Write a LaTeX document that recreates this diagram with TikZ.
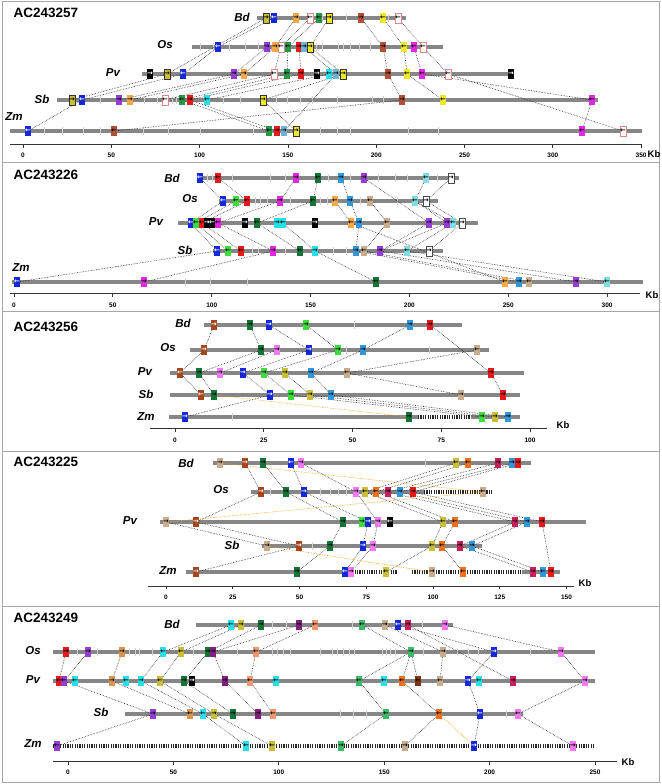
\documentclass[tikz,border=0pt]{standalone}
\usepackage{fontspec}
\setmainfont{Liberation Sans}
\newfontfamily\arrowfont{DejaVu Sans}
\usetikzlibrary{backgrounds}
\pgfdeclarelayer{links}
\pgfsetlayers{background,links,main}

\definecolor{cOlv}{RGB}{200,190,60}
\definecolor{cYel}{RGB}{238,232,40}
\definecolor{cBlu}{RGB}{20,40,215}
\definecolor{cOrg}{RGB}{242,168,72}
\definecolor{cDorg}{RGB}{236,112,30}
\definecolor{cPnk}{RGB}{225,135,135}
\definecolor{cGrn}{RGB}{40,150,70}
\definecolor{cDgrn}{RGB}{20,115,55}
\definecolor{cLgrn}{RGB}{60,220,60}
\definecolor{cMgrn}{RGB}{60,185,100}
\definecolor{cRed}{RGB}{228,25,25}
\definecolor{cBrn}{RGB}{175,80,55}
\definecolor{cPbrn}{RGB}{165,70,30}
\definecolor{cDbrn}{RGB}{130,50,10}
\definecolor{cSky}{RGB}{110,180,212}
\definecolor{cCyn}{RGB}{40,222,232}
\definecolor{cLcyn}{RGB}{130,220,222}
\definecolor{cPur}{RGB}{150,60,210}
\definecolor{cMag}{RGB}{225,40,225}
\definecolor{cLmag}{RGB}{240,120,240}
\definecolor{cTan}{RGB}{200,172,142}
\definecolor{cOcr}{RGB}{215,150,80}
\definecolor{cMblu}{RGB}{50,150,215}
\definecolor{cCrim}{RGB}{200,30,90}
\definecolor{cDpur}{RGB}{130,30,130}
\definecolor{cSal}{RGB}{242,150,110}

\newcommand{\garr}{→}
\newcommand{\garl}{←}
% genes of one track: prefix, y, list x/style/arrow/name
\newcommand{\generow}[3]{%
  \foreach \gx/\gs/\gd/\gn in {#3}
    \node[gene,\gs] (#1-\gn) at (\gx,#2) {\csname gar\gd\endcsname};}
% light marks on a track: y, list of x
\newcommand{\tickrow}[2]{%
  \foreach \tx in {#2} \draw[tickmark] (\tx,#1-4) -- (\tx,#1+4);}
% dotted links: style, list from/to
\newcommand{\linkset}[2]{%
  \begin{pgfonlayer}{links}
  \foreach \la/\lb in {#2} \draw[#1] (\la) -- (\lb);
  \end{pgfonlayer}}

\begin{document}
\begin{tikzpicture}[
  x=1pt, y=-1pt,
  gene/.style={minimum width=6pt, minimum height=10pt, inner sep=0pt, line width=0.5pt, font=\arrowfont\bfseries\fontsize{6.8}{6.8}\selectfont},
  golv/.style={fill=cOlv}, golvk/.style={fill=cOlv, draw=black!80},
  gyel/.style={fill=cYel}, gyelk/.style={fill=cYel, draw=black!80},
  gblu/.style={fill=cBlu, text=white}, gblk/.style={fill=black, text=white},
  gorg/.style={fill=cOrg}, gdorg/.style={fill=cDorg},
  gpnk/.style={fill=white, draw=cPnk}, gwht/.style={fill=white, draw=black!70},
  ggrn/.style={fill=cGrn}, gdgrn/.style={fill=cDgrn}, glgrn/.style={fill=cLgrn}, gmgrn/.style={fill=cMgrn},
  gred/.style={fill=cRed}, gbrn/.style={fill=cBrn}, gpbrn/.style={fill=cPbrn, text=white}, gdbrn/.style={fill=cDbrn},
  gsky/.style={fill=cSky}, gcyn/.style={fill=cCyn}, glcyn/.style={fill=cLcyn}, gmblu/.style={fill=cMblu},
  gpur/.style={fill=cPur}, gmag/.style={fill=cMag}, glmag/.style={fill=cLmag}, gdpur/.style={fill=cDpur},
  gtan/.style={fill=cTan}, gocr/.style={fill=cOcr}, gcrim/.style={fill=cCrim}, gsal/.style={fill=cSal},
  track/.style={draw=gray!95, line width=4.2pt},
  zdash/.style={draw=black!85, line width=4.2pt, dash pattern=on 1.1pt off 1.3pt},
  tickmark/.style={draw=gray!35, line width=1pt},
  link/.style={densely dotted, draw=black!85, line width=0.6pt},
  olink/.style={link, draw=orange!80!yellow},
  axisline/.style={draw=black!80, line width=0.8pt},
  panel/.style={draw=gray!70, line width=1pt},
  title/.style={anchor=west, font=\fontsize{13.5}{14}\selectfont\bfseries},
  sp/.style={font=\fontsize{11.5}{12}\selectfont\bfseries\itshape},
  kblab/.style={font=\fontsize{6.5}{7}\selectfont\bfseries},
  kbunit/.style={anchor=west, inner sep=0.5pt, font=\fontsize{9.5}{10}\selectfont\bfseries}
]
\useasboundingbox (0,0) rectangle (661,784);
\draw[panel] (2,2) rectangle (659,162);
\draw[panel] (2,162) rectangle (659,311);
\draw[panel] (2,311) rectangle (659,451);
\draw[panel] (2,451) rectangle (659,606);
\draw[panel] (2,606) rectangle (659,782);

% ---------------- AC243257
\node[title] (t1) at (10,13) {AC243257};
\node[sp] (abd) at (242,17) {Bd};
\node[sp] (aos) at (165,45) {Os};
\node[sp] (apv) at (113,73) {Pv};
\node[sp] (asb) at (42,99) {Sb};
\node[sp] (azm) at (14,117) {Zm};
\begin{pgfonlayer}{background}
  \draw[track] (257,18) -- (406,18);
  \draw[track] (192,47) -- (443,47);
  \draw[track] (142,74) -- (510,74);
  \draw[track] (57,100) -- (598,100);
  \draw[track] (10,131) -- (642,131);
  \tickrow{18}{322,346,388}
  \tickrow{47}{200,213,229,245,258,316,322,338,343,350,359,370}
  \tickrow{100}{100,144,157,172,176,223,240,276,287,300,312,337,372,383}
  \tickrow{131}{44,62,83,100,143,168,200,253,320,337,350,408,438}
\end{pgfonlayer}
\generow{abd}{18}{266/golvk/r/olv, 274/gblu/l/blu, 296/gorg/r/org, 310/gpnk/l/pnk, 319/ggrn/l/grn, 329/gyelk/r/yel, 361/gbrn/r/brn, 383/gyel/l/yl2, 398/gpnk/l/pk2}
\generow{aos}{47}{218/gblu/l/blu, 267/gpur/r/pur, 275/gorg/r/org, 281/gpnk/l/pnk, 288/ggrn/l/grn, 299/gred/r/red, 304/gsky/r/sky, 310/gyelk/r/yel, 383/gbrn/r/brn, 404/gyel/l/yl2, 414/gmag/l/mag, 423/gpnk/l/pk2}
\generow{apv}{74}{150/gblk/r/bk1, 167/golvk/r/olv, 183/gblu/l/blu, 234/gpur/r/pur, 244/gorg/r/org, 274/gpnk/l/pnk, 287/ggrn/l/grn, 301/gred/r/red, 317/gblk/r/bk2, 329/gcyn/l/cyn, 336/gsky/r/sky, 343/gyelk/r/yel, 388/gbrn/r/brn, 407/gyel/l/yl2, 422/gmag/l/mag, 448/gpnk/l/pk2, 511/gblk/r/bk3}
\generow{asb}{100}{72/golvk/r/olv, 82/gblu/l/blu, 119/gpur/r/pur, 130/gorg/r/org, 165/gpnk/l/pnk, 182/ggrn/l/grn, 190/gred/r/red, 207/gcyn/l/cyn, 263/gyelk/r/yel, 402/gbrn/r/brn, 443/gyel/l/yl2, 592/gmag/l/mag}
\generow{azm}{131}{28/gblu/l/blu, 114/gbrn/l/brn, 269/ggrn/l/grn, 277/gred/r/red, 284/gsky/r/sky, 296/gyelk/r/yel, 582/gmag/l/mag, 623/gpnk/l/pk2}
\linkset{link}{abd-blu/aos-blu, abd-olv/apv-olv, abd-org/aos-org, abd-pnk/aos-pnk, abd-grn/aos-grn, abd-yel/aos-yel, abd-brn/aos-brn, abd-yl2/aos-yl2, abd-pk2/aos-pk2,
  aos-blu/apv-blu, aos-pur/apv-pur, aos-org/apv-org, aos-pnk/apv-pnk, aos-grn/apv-grn, aos-red/apv-red, aos-sky/apv-sky, aos-yel/apv-yel, aos-brn/apv-brn, aos-yl2/apv-yl2, aos-mag/apv-mag, aos-pk2/apv-pk2,
  apv-olv/asb-olv, apv-blu/asb-blu, apv-pur/asb-pur, apv-org/asb-org, apv-pnk/asb-pnk, apv-grn/asb-grn, apv-red/asb-red, apv-cyn/asb-cyn, apv-yel/asb-yel, apv-brn/asb-brn, apv-yl2/asb-yl2, apv-mag/asb-mag,
  apv-sky/azm-sky, apv-pk2/azm-pk2,
  asb-blu/azm-blu, asb-grn/azm-grn, asb-red/azm-red, asb-yel/azm-yel, asb-brn/azm-brn, asb-mag/azm-mag}
\draw[axisline] (10,144) -- (641,144);
\foreach \k in {0,50,...,350} {
  \draw[axisline] ({23+1.766*\k},144) -- ++(0,4);
  \node[kblab] (ak\k) at ({23+1.766*\k},155) {\k};
}
\node[kbunit] (aunit) at (647,154) {Kb};

% ---------------- AC243226
\node[title] (t2) at (10,175) {AC243226};
\node[sp] (bbd) at (172,178) {Bd};
\node[sp] (bos) at (190,199) {Os};
\node[sp] (bpv) at (156,222) {Pv};
\node[sp] (bsb) at (185,250) {Sb};
\node[sp] (bzm) at (21,268) {Zm};
\begin{pgfonlayer}{background}
  \draw[track] (197,178) -- (459,178);
  \draw[track] (219,201) -- (438,201);
  \draw[track] (178,223) -- (478,223);
  \draw[track] (213,251) -- (443,251);
  \draw[track] (12,282) -- (643,282);
  \tickrow{178}{207,212,232,270,285,328,350,378,395,407,437}
  \tickrow{201}{238,255,260,267,290,320,327,360,397}
  \tickrow{251}{252,258,285,333,346}
  \tickrow{282}{185,210,247}
\end{pgfonlayer}
\generow{bbd}{178}{200/gblu/l/blu, 218/gred/l/red, 296/gmag/r/mag, 318/gdgrn/l/dgr, 341/gmblu/r/mbl, 364/gpur/r/pur, 426/glcyn/l/lcy, 451/gwht/r/wht}
\generow{bos}{201}{223/gblu/l/blu, 236/glgrn/l/lgr, 247/gred/l/red, 280/gmag/r/mag, 313/gdgrn/l/dgr, 335/gorg/l/org, 350/gmblu/r/mbl, 370/gtan/l/tan, 415/glcyn/l/lcy, 426/gwht/r/wht}
\generow{bpv}{223}{191/gblu/l/blu, 196/glgrn/l/lgr, 202/gred/l/red, 207/gblk/r/bk1, 212/gblk/l/bk2, 218/gmag/l/mag, 245/gblk/r/bk3, 257/gdgrn/l/dgr, 277/gcyn/r/cy1, 283/gcyn/l/cy2, 315/gblk/r/bk4, 351/gorg/l/org, 359/gmblu/r/mbl, 387/gtan/l/tan, 429/gpur/r/pu1, 447/gpur/r/pu2, 453/glcyn/l/lcy, 462/gwht/r/wht}
\generow{bsb}{251}{217/gblu/l/blu, 228/glgrn/l/lgr, 241/gred/l/red, 273/gmag/r/mag, 300/gdgrn/l/dgr, 315/gcyn/r/cyn, 356/gmblu/r/mbl, 364/gtan/l/tan, 380/gpur/r/pur, 407/glcyn/l/lcy, 429/gwht/r/wht}
\generow{bzm}{282}{17/gblu/l/blu, 144/gmag/r/mag, 376/gdgrn/l/dgr, 505/gorg/l/org, 519/gmblu/r/mbl, 529/gtan/l/tan, 576/gpur/r/pur, 607/glcyn/l/lcy}
\linkset{link}{bbd-blu/bos-blu, bbd-red/bos-red, bbd-mag/bos-mag, bbd-dgr/bos-dgr, bbd-mbl/bos-mbl, bbd-pur/bpv-pu1, bbd-lcy/bos-lcy, bbd-wht/bos-wht,
  bos-blu/bpv-blu, bos-lgr/bpv-lgr, bos-red/bpv-red, bos-mag/bpv-mag, bos-dgr/bpv-dgr, bos-org/bpv-org, bos-mbl/bpv-mbl, bos-tan/bpv-tan, bos-lcy/bpv-lcy, bos-lcy/bpv-pu2, bos-wht/bpv-wht,
  bpv-blu/bsb-blu, bpv-lgr/bsb-lgr, bpv-red/bsb-red, bpv-mag/bsb-mag, bpv-dgr/bsb-dgr, bpv-cy2/bsb-cyn, bpv-mbl/bsb-mbl, bpv-tan/bsb-tan, bpv-pu1/bsb-pur, bpv-pu2/bsb-pur, bpv-lcy/bsb-lcy, bpv-wht/bsb-wht,
  bpv-org/bzm-org,
  bsb-blu/bzm-blu, bsb-mag/bzm-mag, bsb-cyn/bzm-dgr, bsb-mbl/bzm-mbl, bsb-tan/bzm-tan, bsb-pur/bzm-pur, bsb-lcy/bzm-lcy}
\draw[axisline] (10,293) -- (640,293);
\foreach \k in {0,50,...,300} {
  \draw[axisline] ({14+1.977*\k},293) -- ++(0,4);
  \node[kblab] (bk\k) at ({14+1.977*\k},305) {\k};
}
\node[kbunit] (bunit) at (645,295) {Kb};

% ---------------- AC243256
\node[title] (t3) at (10,327) {AC243256};
\node[sp] (cbd) at (183,323) {Bd};
\node[sp] (cos) at (168,348) {Os};
\node[sp] (cpv) at (145,372) {Pv};
\node[sp] (csb) at (146,394) {Sb};
\node[sp] (czm) at (146,417) {Zm};
\begin{pgfonlayer}{background}
  \draw[track] (204,325) -- (462,325);
  \draw[track] (190,350) -- (489,350);
  \draw[track] (170,373) -- (524,373);
  \draw[track] (170,395) -- (520,395);
  \draw[track] (169,417) -- (418,417);
  \draw[zdash] (418,417) -- (471,417);
  \draw[track] (471,417) -- (520,417);
  \tickrow{325}{354}
  \tickrow{350}{346,429}
  \tickrow{417}{232}
\end{pgfonlayer}
\generow{cbd}{325}{214/gpbrn/r/brn, 250/gdgrn/r/dgr, 269/gblu/r/blu, 306/glgrn/r/lgr, 410/gmblu/r/mbl, 430/gred/r/red}
\generow{cos}{350}{204/gpbrn/r/brn, 261/gdgrn/r/dgr, 277/glmag/r/lmg, 309/gblu/r/blu, 338/glgrn/r/lgr, 363/gmblu/r/mbl, 477/gtan/l/tan}
\generow{cpv}{373}{180/gpbrn/l/brn, 199/gdgrn/r/dgr, 220/glmag/r/lmg, 243/gblu/r/blu, 264/glgrn/r/lgr, 285/golv/r/olv, 311/gmblu/r/mbl, 347/gtan/l/tan, 491/gred/r/red}
\generow{csb}{395}{201/gpbrn/l/brn, 214/gdgrn/r/dgr, 270/gblu/r/blu, 291/glgrn/r/lgr, 310/golv/r/olv, 331/gmblu/r/mbl, 461/gtan/r/tan, 503/gred/r/red}
\generow{czm}{417}{185/gblu/r/blu, 409/gdgrn/r/dgr, 482/glgrn/r/lgr, 495/golv/r/olv, 508/gmblu/r/mbl}
\linkset{link}{cbd-brn/cos-brn, cbd-dgr/cos-dgr, cbd-blu/cos-blu, cbd-lgr/cos-lgr, cbd-mbl/cos-mbl, cbd-red/cpv-red,
  cos-brn/cpv-brn, cos-dgr/cpv-dgr, cos-lmg/cpv-lmg, cos-blu/cpv-blu, cos-lgr/cpv-lgr, cos-mbl/cpv-mbl, cos-tan/cpv-tan,
  cpv-brn/csb-brn, cpv-dgr/csb-dgr, cpv-blu/csb-blu, cpv-lgr/csb-lgr, cpv-olv/csb-olv, cpv-mbl/csb-mbl, cpv-tan/csb-tan, cpv-red/csb-red,
  csb-blu/czm-blu, csb-lgr/czm-lgr, csb-olv/czm-olv, csb-mbl/czm-mbl}
\linkset{olink}{csb-dgr/czm-dgr}
\draw[axisline] (150,428) -- (547,428);
\foreach \k in {0,25,...,100} {
  \draw[axisline] ({175+3.55*\k},428) -- ++(0,4);
  \node[kblab] (ck\k) at ({175+3.55*\k},440) {\k};
}
\node[kbunit] (cunit) at (556,425) {Kb};

% ---------------- AC243225
\node[title] (t4) at (10,462) {AC243225};
\node[sp] (dbd) at (186,463) {Bd};
\node[sp] (dos) at (221,490) {Os};
\node[sp] (dpv) at (130,521) {Pv};
\node[sp] (dsb) at (232,545) {Sb};
\node[sp] (dzm) at (168,571) {Zm};
\begin{pgfonlayer}{background}
  \draw[track] (213,463) -- (531,463);
  \draw[track] (251,492) -- (424,492);
  \draw[zdash] (424,492) -- (492,492);
  \draw[track] (160,522) -- (586,522);
  \draw[track] (262,546) -- (482,546);
  \draw[track] (186,572) -- (345,572);
  \draw[zdash] (345,572) -- (397,572);
  \draw[zdash] (412,572) -- (522,572);
  \draw[track] (522,572) -- (560,572);
  \tickrow{463}{425}
  \tickrow{492}{270,320,330,338,346}
  \tickrow{546}{312}
\end{pgfonlayer}
\generow{dbd}{463}{220/gtan/r/tan, 245/gpbrn/r/brn, 263/gdgrn/r/dgr, 291/gblu/l/blu, 301/glmag/r/lmg, 456/golv/l/olv, 468/gdorg/l/org, 498/gcrim/r/crm, 512/gmblu/r/mbl, 518/gred/r/red}
\generow{dos}{492}{261/gpbrn/r/brn, 286/gdgrn/r/dgr, 304/gblu/r/blu, 356/glmag/r/lmg, 365/golv/l/olv, 376/gdorg/l/org, 388/gcrim/r/crm, 400/gmblu/r/mbl, 413/gred/r/red, 483/gtan/l/tan}
\generow{dpv}{522}{166/gtan/r/tan, 196/gpbrn/r/brn, 343/gdgrn/r/dgr, 362/glgrn/r/lgr, 368/gblu/r/blu, 378/glmag/r/lmg, 390/gblk/l/blk, 443/golv/l/olv, 455/gdorg/l/org, 515/gcrim/r/crm, 527/gmblu/r/mbl, 542/gred/r/red}
\generow{dsb}{546}{267/gtan/r/tan, 299/gpbrn/r/brn, 330/gdgrn/r/dgr, 363/gblu/r/blu, 373/glmag/r/lmg, 432/golv/l/olv, 442/gdorg/l/org, 460/gcrim/r/crm, 472/gmblu/r/mbl}
\generow{dzm}{572}{196/gpbrn/r/brn, 297/gdgrn/r/dgr, 345/gblu/l/blu, 351/glmag/r/lmg, 386/golv/l/olv, 432/gtan/r/tan, 463/gdorg/l/org, 533/gcrim/r/crm, 543/gmblu/l/mbl, 551/gred/r/red}
\linkset{link}{dbd-brn/dos-brn, dbd-dgr/dos-dgr, dbd-blu/dos-blu, dbd-lmg/dos-lmg, dbd-olv/dos-olv, dbd-org/dos-org, dbd-crm/dos-crm, dbd-mbl/dos-mbl, dbd-red/dos-red,
  dos-brn/dpv-brn, dos-dgr/dpv-dgr, dos-blu/dpv-blu, dos-lmg/dpv-lmg, dos-olv/dpv-olv, dos-org/dpv-org, dos-crm/dpv-crm, dos-mbl/dpv-mbl, dos-red/dpv-red,
  dpv-tan/dsb-tan, dpv-brn/dsb-brn, dpv-dgr/dsb-dgr, dpv-blu/dsb-blu, dpv-lmg/dsb-lmg, dpv-olv/dsb-olv, dpv-org/dsb-org, dpv-crm/dsb-crm, dpv-mbl/dsb-mbl, dpv-red/dzm-red,
  dsb-brn/dzm-brn, dsb-dgr/dzm-dgr, dsb-blu/dzm-blu, dsb-lmg/dzm-lmg, dsb-olv/dzm-olv, dsb-org/dzm-org, dsb-crm/dzm-crm, dsb-mbl/dzm-mbl}
\linkset{olink}{dbd-tan/dos-tan, dos-tan/dpv-tan, dsb-tan/dzm-tan}
\draw[axisline] (148,586) -- (574,586);
\foreach \k in {0,25,...,150} {
  \draw[axisline] ({166+2.67*\k},586) -- ++(0,3);
  \node[kblab] (dk\k) at ({166+2.67*\k},597) {\k};
}
\node[kbunit] (dunit) at (578,583) {Kb};

% ---------------- AC243249
\node[title] (t5) at (10,618) {AC243249};
\node[sp] (ebd) at (172,624) {Bd};
\node[sp] (eos) at (33,651) {Os};
\node[sp] (epv) at (33,680) {Pv};
\node[sp] (esb) at (101,712) {Sb};
\node[sp] (ezm) at (33,744) {Zm};
\begin{pgfonlayer}{background}
  \draw[track] (196,625) -- (453,625);
  \draw[track] (53,652) -- (595,652);
  \draw[track] (53,681) -- (595,681);
  \draw[track] (125,714) -- (523,714);
  \draw[zdash] (53,746) -- (595,746);
  \tickrow{625}{272,286,352,422}
  \tickrow{652}{77,97,129,135,139,152,193,237,272,277,283,290,320,332,337,343,349,354,382,386,390,395,423,457,468,478,530}
  \tickrow{714}{340,353,366,506}
\end{pgfonlayer}
\generow{ebd}{625}{231/gcyn/l/cyn, 241/golv/r/olv, 261/gdgrn/r/dgr, 299/gdpur/r/dpu, 315/gsal/l/sal, 362/gmgrn/l/mgr, 385/gtan/r/tan, 398/gblu/l/blu, 408/gcrim/r/crm, 445/glmag/r/lmg}
\generow{eos}{652}{66/gred/r/red, 88/gpur/r/pur, 122/gocr/r/ocr, 163/gcyn/l/cyn, 181/golv/l/olv, 208/gdgrn/r/dgr, 213/gdpur/r/dpu, 256/gsal/l/sal, 411/gmgrn/r/mgr, 443/gtan/r/tan, 494/gblu/r/blu, 561/glmag/r/lmg}
\generow{epv}{681}{59/gred/l/red, 64/gpur/l/pur, 75/gcyn/l/cy1, 112/gocr/r/ocr, 126/gcyn/l/cy2, 141/gcyn/r/cy3, 160/golv/l/olv, 184/gdgrn/r/dgr, 192/gblk/r/blk, 225/gdpur/r/dpu, 250/gsal/l/sal, 276/gcyn/l/cy4, 359/gmgrn/l/mgr, 384/gcyn/l/cy5, 402/gdorg/l/org, 418/gdbrn/l/dbr, 440/gtan/l/tan, 468/gblu/r/blu, 479/gcyn/l/cy6, 513/gcrim/r/crm, 585/glmag/r/lmg}
\generow{esb}{714}{153/gpur/r/pur, 190/gocr/l/ocr, 203/gcyn/l/cyn, 214/golv/r/olv, 233/gdgrn/r/dgr, 258/gdpur/r/dpu, 273/gsal/l/sal, 386/gmgrn/l/mgr, 439/gdorg/l/org, 480/gblu/l/blu, 518/glmag/l/lmg}
\generow{ezm}{746}{57/gpur/l/pur, 246/gcyn/l/cyn, 272/golv/l/olv, 341/gmgrn/r/mgr, 405/gtan/r/tan, 474/gblu/r/blu, 573/glmag/r/lmg}
\linkset{link}{ebd-cyn/eos-cyn, ebd-olv/eos-olv, ebd-dgr/eos-dgr, ebd-dpu/eos-dpu, ebd-sal/eos-sal, ebd-mgr/eos-mgr, ebd-tan/eos-tan, ebd-blu/eos-blu, ebd-crm/epv-crm, ebd-lmg/eos-lmg,
  eos-red/epv-red, eos-pur/epv-pur, eos-ocr/epv-ocr, eos-cyn/epv-cy3, eos-olv/epv-olv, eos-dgr/epv-dgr, eos-dpu/epv-dpu, eos-sal/epv-sal, eos-mgr/epv-mgr, eos-mgr/epv-org, eos-mgr/epv-dbr, eos-tan/epv-tan, eos-blu/epv-blu, eos-lmg/epv-lmg,
  epv-pur/esb-pur, epv-ocr/esb-ocr, epv-cy3/esb-cyn, epv-olv/esb-olv, epv-dgr/esb-dgr, epv-dpu/esb-dpu, epv-sal/esb-sal, epv-mgr/esb-mgr, epv-org/esb-org, epv-blu/esb-blu, epv-lmg/esb-lmg,
  esb-pur/ezm-pur, esb-cyn/ezm-cyn, esb-olv/ezm-olv, esb-mgr/ezm-mgr, esb-org/ezm-tan, esb-blu/ezm-blu, esb-lmg/ezm-lmg}
\linkset{olink}{esb-org/ezm-blu}
\draw[axisline] (53,761) -- (617,761);
\foreach \k in {0,50,...,250} {
  \draw[axisline] ({68+2.108*\k},761) -- ++(0,4);
  \node[kblab] (ek\k) at ({68+2.108*\k},772) {\k};
}
\node[kbunit] (eunit) at (621,762) {Kb};
\end{tikzpicture}
\end{document}
